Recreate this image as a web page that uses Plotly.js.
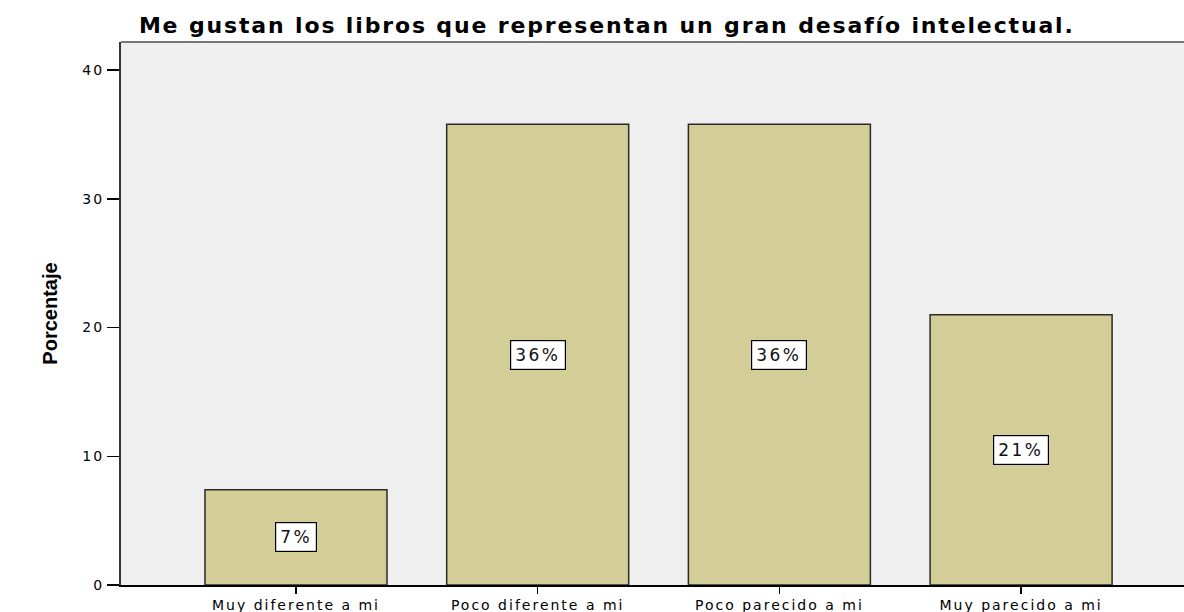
<!DOCTYPE html>
<html>
<head>
<meta charset="utf-8">
<script src="https://cdn.plot.ly/plotly-3.0.1.min.js"></script>
<style>
html,body{margin:0;padding:0;background:#fff;}
#chart{width:1184px;height:612px;}
.gtitle{letter-spacing:1.85px;}
.xtick text,.ytick text{letter-spacing:2px;}
.annotation-text{letter-spacing:2.5px;}
</style>
</head>
<body>
<div id="chart"></div>
<script>
const categories = ["Muy diferente a mi", "Poco diferente a mi", "Poco parecido a mi", "Muy parecido a mi"];
const percentages = [7.4, 35.8, 35.8, 21.0];
const barLabels = ["7%", "36%", "36%", "21%"];
const yTickValues = [0, 10, 20, 30, 40];

const trace = {
  type: "bar",
  x: categories,
  y: percentages,
  width: 0.753,
  marker: { color: "#d3ce97", line: { color: "#2a2a2a", width: 1.5 } },
  hoverinfo: "skip"
};

const annotations = categories.map((c, i) => ({
  x: c, y: percentages[i] / 2, xref: "x", yref: "y",
  text: barLabels[i], showarrow: false,
  bgcolor: "#ffffff", bordercolor: "#000000", borderwidth: 1.2, borderpad: 4,
  font: { family: "DejaVu Sans, Liberation Sans, sans-serif", size: 17, color: "#111" }
}));

const layout = {
  width: 1184, height: 612,
  margin: { l: 121, r: 0, t: 42, b: 27 },
  paper_bgcolor: "#ffffff",
  plot_bgcolor: "#efefef",
  showlegend: false,
  title: {
    text: "<b>Me gustan los libros que representan un gran desafío intelectual.</b>",
    font: { family: "DejaVu Sans, Liberation Sans, sans-serif", size: 22, color: "#000" },
    x: 0.457, xanchor: "center", y: 0.972, yanchor: "top", xref: "paper"
  },
  xaxis: {
    type: "category",
    range: [-0.724, 3.674],
    showline: true, linecolor: "#000", linewidth: 1.5,
    ticks: "outside", ticklen: 7, tickcolor: "#000", tickwidth: 1.5,
    tickfont: { family: "DejaVu Sans, Liberation Sans, sans-serif", size: 14, color: "#000" },
    showgrid: false, zeroline: false, fixedrange: true
  },
  yaxis: {
    range: [0, 42.19],
    tickvals: yTickValues,
    showline: true, linecolor: "#333", linewidth: 2,
    ticks: "outside", ticklen: 12, tickcolor: "#000", tickwidth: 1.5,
    tickfont: { family: "DejaVu Sans, Liberation Sans, sans-serif", size: 14, color: "#000" },
    showgrid: false, zeroline: false, fixedrange: true,
    title: {
      text: "<b>Porcentaje</b>",
      font: { family: "Liberation Sans Narrow, Liberation Sans, Arial Narrow, sans-serif", size: 20, color: "#000" },
      standoff: 19
    }
  },
  shapes: [
    { type: "line", xref: "paper", yref: "paper", x0: 0, x1: 1, y0: 1, y1: 1,
      line: { color: "#777", width: 2 } }
  ],
  annotations: annotations,
  bargap: 0.247
};

Plotly.newPlot("chart", [trace], layout, { staticPlot: true, displayModeBar: false });
</script>
</body>
</html>
